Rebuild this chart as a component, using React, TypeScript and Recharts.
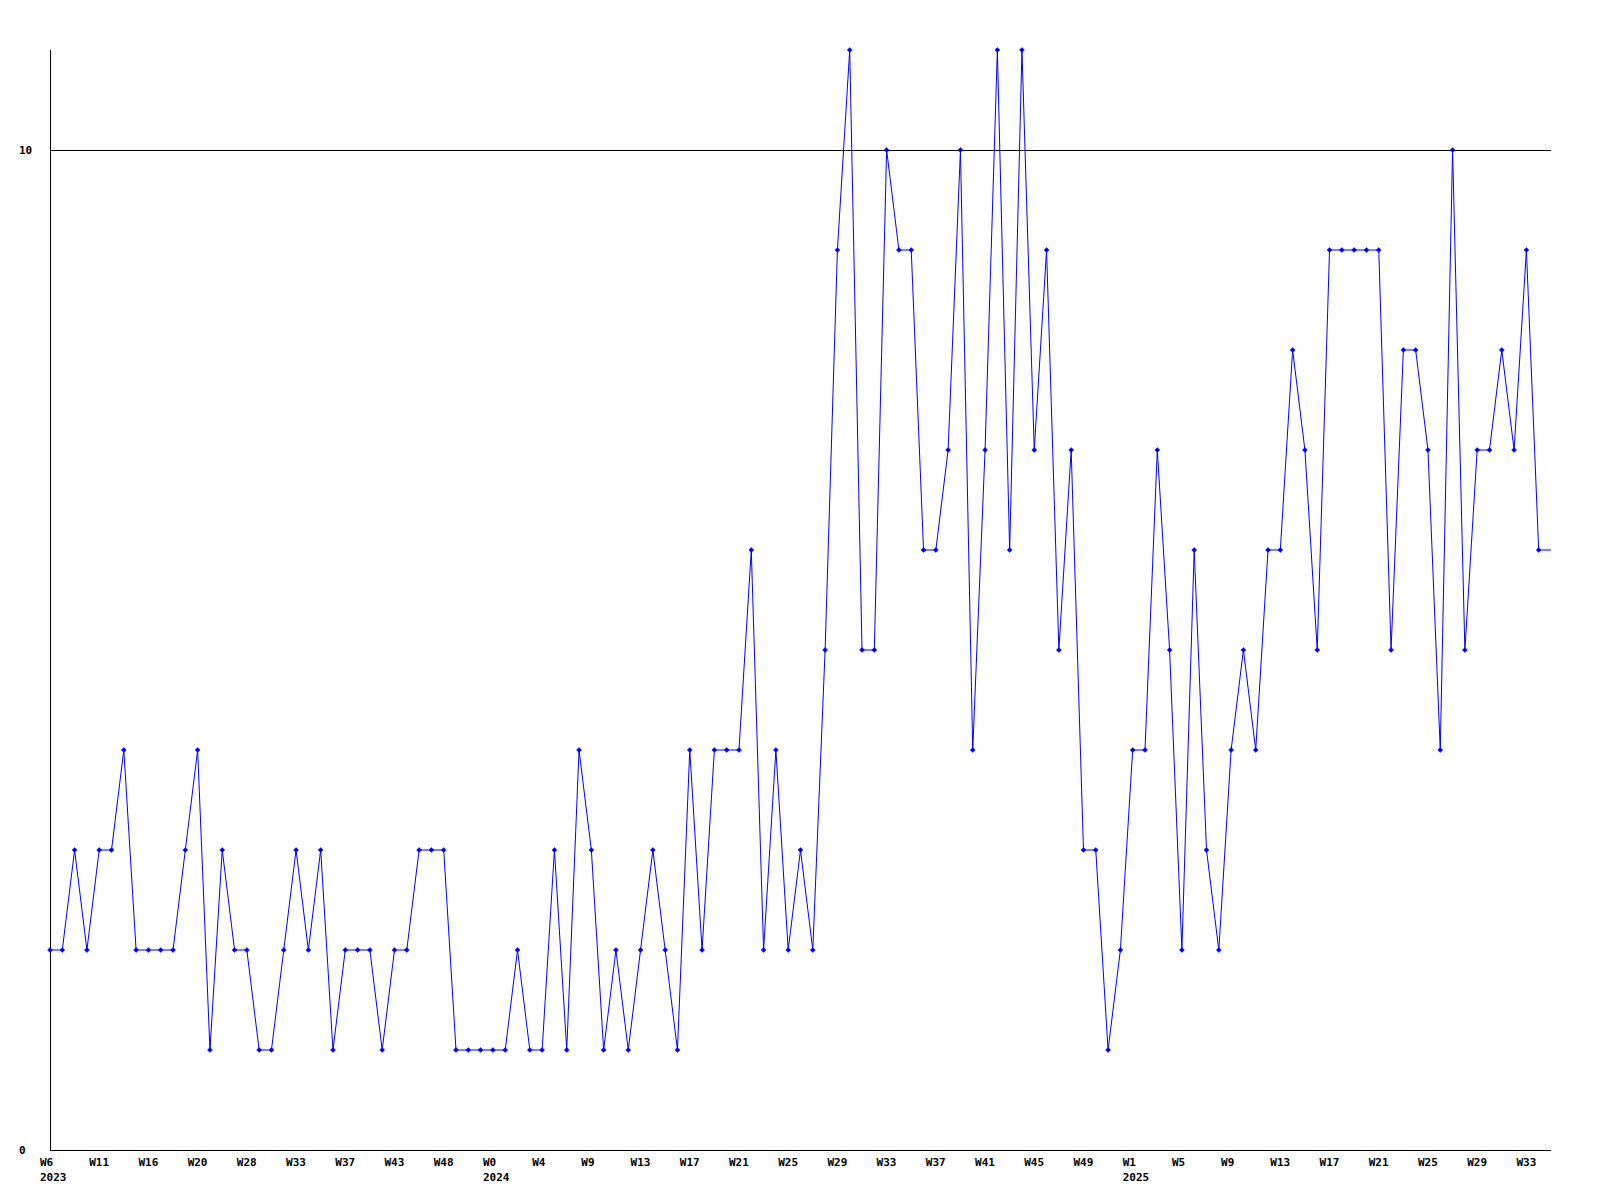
import { Line, LineChart, ReferenceLine, XAxis, YAxis } from 'recharts';

// weekly counts, one per point
const counts = [
  2, 2, 3, 2, 3, 3, 4, 2, 2, 2, 2, 3, 4, 1, 3, 2, 2, 1, 1, 2,
  3, 2, 3, 1, 2, 2, 2, 1, 2, 2, 3, 3, 3, 1, 1, 1, 1, 1, 2, 1,
  1, 3, 1, 4, 3, 1, 2, 1, 2, 3, 2, 1, 4, 2, 4, 4, 4, 6, 2, 4,
  2, 3, 2, 5, 9, 11, 5, 5, 10, 9, 9, 6, 6, 7, 10, 4, 7, 11, 6, 11,
  7, 9, 5, 7, 3, 3, 1, 2, 4, 4, 7, 5, 2, 6, 3, 2, 4, 5, 4, 6,
  6, 8, 7, 5, 9, 9, 9, 9, 9, 5, 8, 8, 7, 4, 10, 5, 7, 7, 8, 7,
  9, 6,
];

// one label every 4th point
const tickWeeks = [
  'W6', 'W11', 'W16', 'W20', 'W28', 'W33', 'W37', 'W43', 'W48', 'W0', 'W4',
  'W9', 'W13', 'W17', 'W21', 'W25', 'W29', 'W33', 'W37', 'W41', 'W45', 'W49',
  'W1', 'W5', 'W9', 'W13', 'W17', 'W21', 'W25', 'W29', 'W33',
];
const tickYears: Record<number, string> = { 0: '2023', 9: '2024', 22: '2025' };

const yTicks = [0, 10];

const tickStep = 4;
const xTicks = tickWeeks.map((_, i) => i * tickStep);

// the line runs on flat to the right edge after the last point
const data = [
  ...counts.map((v, i) => ({ x: i, value: v, dot: true })),
  { x: counts.length, value: counts[counts.length - 1], dot: false },
];

const font = '"DejaVu Sans Mono", monospace';

// labels start a char and a half left of the tick, like the original
const WeekTick = (props: any) => {
  const { x, y, payload } = props;
  const idx = Math.round(payload.value / tickStep);
  const year = tickYears[idx];
  const lx = x - 10;
  return (
    <text x={lx} y={y} textAnchor="start" fontFamily={font} fontSize={11} fontWeight="bold" fill="#000">
      <tspan x={lx} dy={16}>{tickWeeks[idx]}</tspan>
      {year && <tspan x={lx} dy={15}>{year}</tspan>}
    </text>
  );
};

const CountTick = (props: any) => {
  const { y, payload } = props;
  return (
    <text x={19} y={y} dy={4} textAnchor="start" fontFamily={font} fontSize={11} fontWeight="bold" fill="#000">
      {payload.value}
    </text>
  );
};

const Marker = (props: any) => {
  const { cx, cy, payload } = props;
  if (!payload.dot || cx == null) return null;
  const r = 2.5;
  return (
    <polygon
      key={`m-${payload.x}`}
      points={`${cx},${cy - r} ${cx + r},${cy} ${cx},${cy + r} ${cx - r},${cy}`}
      fill="#0000ff"
      stroke="#0000ff"
      strokeWidth={0.5}
    />
  );
};

export default function App() {
  return (
    <div style={{ position: 'absolute', left: 0, top: 0, background: '#fff' }}>
      <LineChart
        width={1600}
        height={1200}
        data={data}
        margin={{ top: 50, right: 49, left: 0, bottom: 0 }}
      >
        <XAxis
          dataKey="x"
          type="number"
          domain={[0, counts.length]}
          ticks={xTicks}
          interval={0}
          tick={<WeekTick />}
          tickSize={0}
          tickMargin={0}
          height={50}
          axisLine={{ stroke: '#000', shapeRendering: 'crispEdges' }}
          tickLine={false}
        />
        <YAxis
          domain={[0, 11]}
          ticks={yTicks}
          interval={0}
          width={50}
          tickSize={0}
          tick={<CountTick />}
          axisLine={{ stroke: '#000', shapeRendering: 'crispEdges' }}
          tickLine={false}
        />
        <ReferenceLine y={10} stroke="#000" strokeWidth={1} shapeRendering="crispEdges" />
        <Line
          type="linear"
          dataKey="value"
          stroke="#0000ff"
          strokeWidth={1}
          dot={<Marker />}
          activeDot={false}
          isAnimationActive={false}
        />
      </LineChart>
    </div>
  );
}
